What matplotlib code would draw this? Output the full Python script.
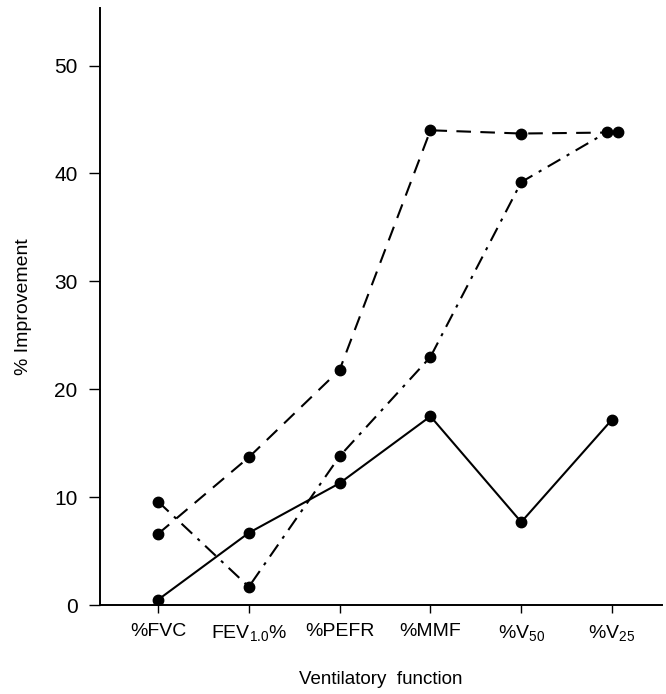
import matplotlib.pyplot as plt

# Ventilatory function categories
categories = ["%FVC", r"FEV$_{\mathregular{1.0}}$%", "%PEFR", "%MMF",
              r"%V$_{\mathregular{50}}$", r"%V$_{\mathregular{25}}$"]

# % improvement
solid_vals = [0.5, 6.7, 11.3, 17.5, 7.7, 17.2]
dashed_vals = [6.6, 13.7, 21.8, 44.0, 43.7, 43.8]
dashdot_vals = [9.6, 1.7, 13.8, 23.0, 39.2, 43.8]

y_ticks = [0, 10, 20, 30, 40, 50]

plt.rcParams["font.family"] = ["Liberation Sans", "DejaVu Sans"]
plt.rcParams["mathtext.fontset"] = "custom"
plt.rcParams["mathtext.rm"] = "Liberation Sans"

fig = plt.figure(figsize=(6.66, 6.94), dpi=100)
ax = fig.add_axes([0.150, 0.128, 0.844, 0.860])

x = list(range(len(categories)))
# the last two overlapping points sit side by side in the original
spread = 0.06
x_dashed = x[:-1] + [x[-1] + spread]
x_dashdot = x[:-1] + [x[-1] - spread]

style = dict(color="black", lw=1.5, marker="o", markersize=7.5)
ax.plot(x, solid_vals, ls="-", **style)
ax.plot(x_dashed, dashed_vals, ls=(0, (7, 4.5)), **style)
ax.plot(x_dashdot, dashdot_vals, ls=(0, (7, 3.5, 1.5, 3.5)), **style)

ax.set_xlim(-0.64, 5.55)
ax.set_ylim(0, 55.3)
ax.set_xticks(x)
ax.set_xticklabels(categories, fontsize=14)
ax.set_yticks(y_ticks)
ax.tick_params(axis="y", labelsize=15, length=8, width=1, direction="out", pad=8)
ax.tick_params(axis="x", length=6, width=1, direction="out", pad=7)

for side in ["top", "right"]:
    ax.spines[side].set_visible(False)
for side in ["left", "bottom"]:
    ax.spines[side].set_linewidth(1.4)

ax.set_ylabel("% Improvement", fontsize=14, labelpad=16)
ax.set_xlabel("Ventilatory  function", fontsize=13.5, labelpad=20)

fig.savefig("out.png", dpi=100)
